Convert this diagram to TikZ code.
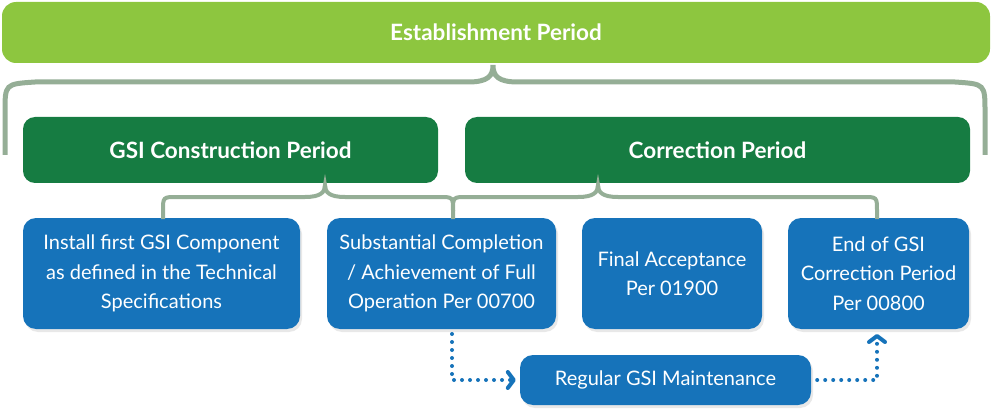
\documentclass[tikz,border=0pt]{standalone}
\usepackage{fontspec}
\setmainfont{Lato}
\usetikzlibrary{arrows.meta,shadows}
\definecolor{lightgr}{HTML}{8DC63F}
\definecolor{darkgr}{HTML}{167C42}
\definecolor{boxblue}{HTML}{1673BA}
\definecolor{bracegr}{HTML}{95AE96}
\tikzset{
  topbox/.style={fill=lightgr,rounded corners=14pt,text=white,font=\fontsize{22.5}{26}\selectfont\bfseries,inner sep=0pt},
  periodbox/.style={fill=darkgr,rounded corners=12pt,text=white,font=\fontsize{22.5}{26}\selectfont\bfseries,inner sep=0pt,minimum height=66pt},
  eventbox/.style={fill=boxblue,rounded corners=13pt,text=white,font=\fontsize{20}{29.5}\selectfont,align=center,inner sep=0pt,minimum height=111pt,
    drop shadow={opacity=0.18,shadow xshift=2pt,shadow yshift=-3pt}},
  bracepath/.style={draw=bracegr,line width=4pt},
  dotarrow/.style={draw=boxblue,line width=4pt,line cap=round,dash pattern=on 0pt off 8pt,
    -{Straight Barb[length=6pt,width=16pt,line width=4pt,line cap=round,line join=round]}},
}
\begin{document}
\begin{tikzpicture}[x=1pt,y=-1pt]
\useasboundingbox (0,0) rectangle (991,409);
\node[topbox,minimum width=988pt,minimum height=61pt] (est) at (496,32.5) {Establishment Period};
\node[periodbox,minimum width=415pt] (gsi) at (230.5,150) {GSI Construction Period};
\node[periodbox,minimum width=505pt] (corr) at (717.5,150) {Correction Period};
\node[eventbox,minimum width=277pt] (b1) at (161.5,273.5) {Install first GSI Component\\as defined in the Technical\\Specifications};
\node[eventbox,minimum width=229pt] (b2) at (441.5,273.5) {Substantial Completion\\/ Achievement of Full\\Operation Per 00700};
\node[eventbox,minimum width=180pt] (b3) at (672,273.5) {Final Acceptance\\Per 01900};
\node[eventbox,minimum width=181pt] (b4) at (878.5,273.5) {End of GSI\\Correction Period\\Per 00800};
\node[eventbox,minimum width=291pt,minimum height=50pt] (mt) at (665.5,380) {Regular GSI Maintenance};
% braces
\coordinate (estcusp) at (493,65);
\draw[bracepath,line width=5pt] (5,155) -- (5,112) .. controls (5,84) .. (35,82) -- (468,82)
  .. controls (488,82) and (493,76) .. (estcusp) .. controls (493,76) and (498,82) .. (518,82)
  -- (955,82) .. controls (985,84) .. (985,112) -- (985,155);
\coordinate (gcusp) at (325,185);
\coordinate (ccusp) at (598,185);
\coordinate (g1) at (163,219);
\coordinate (g2) at (453,219);
\coordinate (g3) at (877,219);
\draw[bracepath] (g1) -- (163,211) .. controls (163,197) .. (177,197) -- (305,197)
  .. controls (321,197) and (325,192) .. (gcusp) .. controls (325,192) and (329,197) .. (345,197)
  -- (439,197) .. controls (453,197) .. (453,211) -- (g2);
\draw[bracepath] (453,211) .. controls (453,197) .. (467,197) -- (578,197)
  .. controls (594,197) and (598,192) .. (ccusp) .. controls (598,192) and (602,197) .. (618,197)
  -- (863,197) .. controls (877,197) .. (877,211) -- (g3);
% dotted arrows
\coordinate (d1) at (452,334);
\coordinate (d2) at (877,334);
\draw[dotarrow] (d1) |- ([xshift=-4pt]mt.west);
\draw[dotarrow] ([xshift=6pt]mt.east) -| (d2);
\end{tikzpicture}
\end{document}
